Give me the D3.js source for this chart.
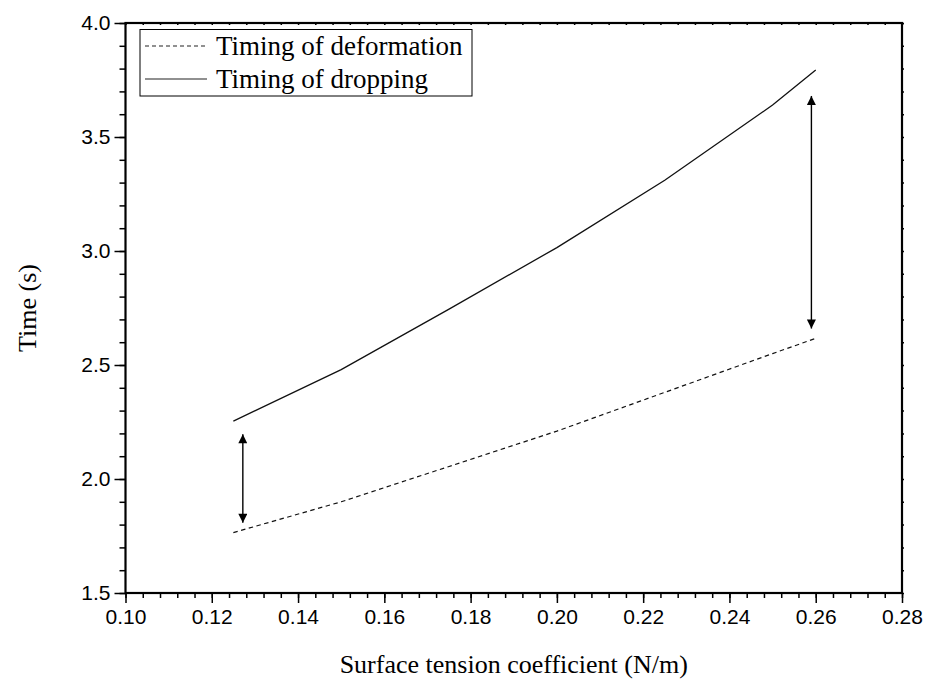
<!DOCTYPE html>
<html>
<head>
<meta charset="utf-8">
<script src="https://cdn.jsdelivr.net/npm/d3@7/dist/d3.min.js"></script>
<style>
  body { margin: 0; background: #fff; }
  .tick text { font-family: "Liberation Sans", Arial, sans-serif; font-size: 21px; fill: #000; }
  .serif { font-family: "Liberation Serif", "Times New Roman", serif; fill: #000; }
</style>
</head>
<body>
<svg id="chart" width="927" height="686"></svg>
<script>
//Surface tension values (N/m) where the timings were sampled.
let tension = [0.125, 0.15, 0.175, 0.20, 0.225, 0.25, 0.26];
//Timing of deformation (s), dashed line.
let deformation = [1.765, 1.90, 2.055, 2.21, 2.38, 2.55, 2.617];
//Timing of dropping (s), solid line.
let dropping = [2.254, 2.48, 2.745, 3.015, 3.31, 3.64, 3.794];
//Double headed arrows marking the gap between the curves.
let arrowX = [0.1272, 0.259];
let arrowTop = [2.196, 3.68];
let arrowBottom = [1.808, 2.66];
//Tick labels.
let xTicks = [0.10, 0.12, 0.14, 0.16, 0.18, 0.20, 0.22, 0.24, 0.26, 0.28];
let yTicks = [1.5, 2.0, 2.5, 3.0, 3.5, 4.0];
let legendNames = ['Timing of deformation', 'Timing of dropping'];

let svg = d3.select('#chart');
let plotLeft = 125.5, plotRight = 902, plotTop = 23, plotBottom = 593;

let x = d3.scaleLinear().domain([0.10, 0.28]).range([plotLeft, plotRight]);
let y = d3.scaleLinear().domain([1.5, 4.0]).range([plotBottom, plotTop]);

//Minor ticks first so the major ones sit on top.
let xMinor = d3.range(0, 46).map(i => 0.10 + i * 0.004);
let yMinor = d3.range(0, 26).map(i => 1.5 + i * 0.1);

function minorAxis(axis, vals, size) {
  return axis.tickValues(vals).tickSize(size).tickFormat('').tickSizeOuter(0);
}

svg.append('g').attr('transform', `translate(0,${plotBottom})`)
  .call(minorAxis(d3.axisBottom(x), xMinor, 5));
svg.append('g').attr('transform', `translate(${plotLeft},0)`)
  .call(minorAxis(d3.axisLeft(y), yMinor, 6));
//Top and right frame with tiny ticks.
svg.append('g').attr('transform', `translate(0,${plotTop})`)
  .call(minorAxis(d3.axisBottom(x), xMinor, 2));
svg.append('g').attr('transform', `translate(${plotRight},0)`)
  .call(minorAxis(d3.axisRight(y), yMinor, 2));

//Major ticks with labels.
let xAxis = d3.axisBottom(x).tickValues(xTicks).tickFormat(d3.format('.2f')).tickSize(10).tickSizeOuter(0).tickPadding(6);
svg.append('g').attr('transform', `translate(0,${plotBottom})`).call(xAxis);
let yAxis = d3.axisLeft(y).tickValues(yTicks).tickFormat(d3.format('.1f')).tickSize(11).tickSizeOuter(0).tickPadding(4);
svg.append('g').attr('transform', `translate(${plotLeft},0)`).call(yAxis);

svg.selectAll('.domain').remove();
svg.selectAll('.tick line').attr('stroke', '#000').attr('stroke-width', 1.5);

//Frame.
svg.append('rect')
  .attr('x', plotLeft).attr('y', plotTop)
  .attr('width', plotRight - plotLeft).attr('height', plotBottom - plotTop)
  .attr('fill', 'none').attr('stroke', '#000').attr('stroke-width', 2.2);

//The two curves (straight segments between samples, as in the original).
let line = d3.line().x(d => x(d[0])).y(d => y(d[1]));
svg.append('path')
  .attr('d', line(d3.zip(tension, deformation)))
  .attr('fill', 'none').attr('stroke', '#111').attr('stroke-width', 1.2)
  .attr('stroke-dasharray', '4.5,3.5');
svg.append('path')
  .attr('d', line(d3.zip(tension, dropping)))
  .attr('fill', 'none').attr('stroke', '#111').attr('stroke-width', 1.3);

//Arrow heads.
let defs = svg.append('defs');
defs.append('marker')
  .attr('id', 'head')
  .attr('viewBox', '0 0 10 10')
  .attr('refX', 10).attr('refY', 5)
  .attr('markerWidth', 10).attr('markerHeight', 9)
  .attr('markerUnits', 'userSpaceOnUse')
  .attr('orient', 'auto-start-reverse')
  .append('path').attr('d', 'M0,0L10,5L0,10Z').attr('fill', '#000');

svg.append('g').selectAll('line')
  .data(arrowX)
  .join('line')
  .attr('x1', d => x(d)).attr('x2', d => x(d))
  .attr('y1', (d, i) => y(arrowTop[i]))
  .attr('y2', (d, i) => y(arrowBottom[i]))
  .attr('stroke', '#000').attr('stroke-width', 1.4)
  .attr('marker-start', 'url(#head)')
  .attr('marker-end', 'url(#head)');

//Legend.
let legend = svg.append('g');
legend.append('rect')
  .attr('x', 140).attr('y', 29.5)
  .attr('width', 332).attr('height', 66.5)
  .attr('fill', '#fff').attr('stroke', '#000').attr('stroke-width', 1);
let rows = legend.selectAll('g.row')
  .data(legendNames)
  .join('g').attr('class', 'row')
  .attr('transform', (d, i) => `translate(0,${46 + i * 33})`);
rows.append('line')
  .attr('x1', 145).attr('x2', 207)
  .attr('stroke', '#222').attr('stroke-width', 1.2)
  .attr('stroke-dasharray', (d, i) => i == 0 ? '4,3' : null);
rows.append('text')
  .attr('class', 'serif')
  .attr('x', 216).attr('y', 9)
  .style('font-size', '27px')
  .text(d => d);

//Axis titles.
svg.append('text').attr('class', 'serif')
  .attr('x', (plotLeft + plotRight) / 2).attr('y', 673)
  .attr('text-anchor', 'middle').style('font-size', '26px')
  .text('Surface tension coefficient (N/m)');
svg.append('text').attr('class', 'serif')
  .attr('transform', `translate(36,${(plotTop + plotBottom) / 2})rotate(-90)`)
  .attr('text-anchor', 'middle').style('font-size', '26px')
  .text('Time (s)');
</script>
</body>
</html>
